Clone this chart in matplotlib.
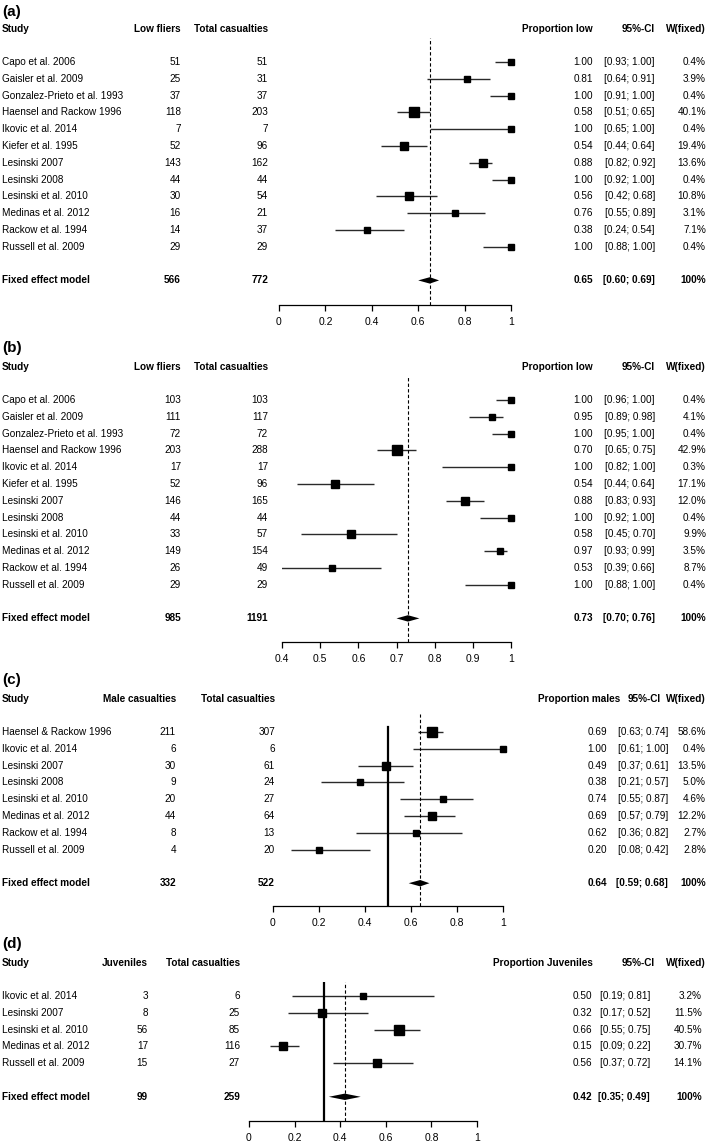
import matplotlib
matplotlib.use("Agg")
import matplotlib.pyplot as plt
import numpy as np

plt.rcParams['font.family'] = ['Liberation Sans', 'DejaVu Sans']

# ---- data ----
studies_ab = ["Capo et al. 2006", "Gaisler et al. 2009", "Gonzalez-Prieto et al. 1993",
              "Haensel and Rackow 1996", "Ikovic et al. 2014", "Kiefer et al. 1995",
              "Lesinski 2007", "Lesinski 2008", "Lesinski et al. 2010",
              "Medinas et al. 2012", "Rackow et al. 1994", "Russell et al. 2009"]

a_events = [51, 25, 37, 118, 7, 52, 143, 44, 30, 16, 14, 29]
a_totals = [51, 31, 37, 203, 7, 96, 162, 44, 54, 21, 37, 29]
a_prop = [1.00, 0.81, 1.00, 0.58, 1.00, 0.54, 0.88, 1.00, 0.56, 0.76, 0.38, 1.00]
a_lo = [0.93, 0.64, 0.91, 0.51, 0.65, 0.44, 0.82, 0.92, 0.42, 0.55, 0.24, 0.88]
a_hi = [1.00, 0.91, 1.00, 0.65, 1.00, 0.64, 0.92, 1.00, 0.68, 0.89, 0.54, 1.00]
a_w = [0.4, 3.9, 0.4, 40.1, 0.4, 19.4, 13.6, 0.4, 10.8, 3.1, 7.1, 0.4]
a_fixed = (566, 772, 0.65, 0.60, 0.69)

b_events = [103, 111, 72, 203, 17, 52, 146, 44, 33, 149, 26, 29]
b_totals = [103, 117, 72, 288, 17, 96, 165, 44, 57, 154, 49, 29]
b_prop = [1.00, 0.95, 1.00, 0.70, 1.00, 0.54, 0.88, 1.00, 0.58, 0.97, 0.53, 1.00]
b_lo = [0.96, 0.89, 0.95, 0.65, 0.82, 0.44, 0.83, 0.92, 0.45, 0.93, 0.39, 0.88]
b_hi = [1.00, 0.98, 1.00, 0.75, 1.00, 0.64, 0.93, 1.00, 0.70, 0.99, 0.66, 1.00]
b_w = [0.4, 4.1, 0.4, 42.9, 0.3, 17.1, 12.0, 0.4, 9.9, 3.5, 8.7, 0.4]
b_fixed = (985, 1191, 0.73, 0.70, 0.76)

c_studies = ["Haensel & Rackow 1996", "Ikovic et al. 2014", "Lesinski 2007", "Lesinski 2008",
             "Lesinski et al. 2010", "Medinas et al. 2012", "Rackow et al. 1994", "Russell et al. 2009"]
c_events = [211, 6, 30, 9, 20, 44, 8, 4]
c_totals = [307, 6, 61, 24, 27, 64, 13, 20]
c_prop = [0.69, 1.00, 0.49, 0.38, 0.74, 0.69, 0.62, 0.20]
c_lo = [0.63, 0.61, 0.37, 0.21, 0.55, 0.57, 0.36, 0.08]
c_hi = [0.74, 1.00, 0.61, 0.57, 0.87, 0.79, 0.82, 0.42]
c_w = [58.6, 0.4, 13.5, 5.0, 4.6, 12.2, 2.7, 2.8]
c_fixed = (332, 522, 0.64, 0.59, 0.68)
c_ref = 0.5

d_studies = ["Ikovic et al. 2014", "Lesinski 2007", "Lesinski et al. 2010",
             "Medinas et al. 2012", "Russell et al. 2009"]
d_events = [3, 8, 56, 17, 15]
d_totals = [6, 25, 85, 116, 27]
d_prop = [0.50, 0.32, 0.66, 0.15, 0.56]
d_lo = [0.19, 0.17, 0.55, 0.09, 0.37]
d_hi = [0.81, 0.52, 0.75, 0.22, 0.72]
d_w = [3.2, 11.5, 40.5, 30.7, 14.1]
d_fixed = (99, 259, 0.42, 0.35, 0.49)
d_ref = 0.33

W, H = 709, 1145
fig = plt.figure(figsize=(W / 100, H / 100), dpi=100)

def fx(x):
    return x / W

def fy(y):
    return 1 - y / H

FS = 7.2
DY = 16.8

def panel(label, col1, col2, propname, studies, ev, tot, prop, lo, hi, w, fixed,
          xlim, ticks, lay, ref=None):
    # lay: pixel layout of this panel
    fig.text(fx(2), fy(lay['label']), label, fontsize=11, fontweight='bold', va='center')
    hy = lay['header']
    bold = dict(fontsize=FS, fontweight='bold', va='center')
    fig.text(fx(2), fy(hy), "Study", **bold)
    fig.text(fx(lay['c1']), fy(hy), col1, ha='right', **bold)
    fig.text(fx(lay['c2']), fy(hy), col2, ha='right', **bold)
    fig.text(fx(lay['ph']), fy(hy), propname, ha='right', **bold)
    fig.text(fx(lay['cih']), fy(hy), "95%-CI", ha='right', **bold)
    fig.text(fx(706), fy(hy), "W(fixed)", ha='right', **bold)

    n = len(studies)
    for i in range(n):
        y = lay['first'] + i * DY
        fig.text(fx(2), fy(y), studies[i], fontsize=FS, va='center')
        fig.text(fx(lay['c1']), fy(y), str(ev[i]), fontsize=FS, va='center', ha='right')
        fig.text(fx(lay['c2']), fy(y), str(tot[i]), fontsize=FS, va='center', ha='right')
        fig.text(fx(lay['p']), fy(y), f"{prop[i]:.2f}", fontsize=FS, va='center', ha='right')
        fig.text(fx(lay['ci']), fy(y), f"[{lo[i]:.2f}; {hi[i]:.2f}]", fontsize=FS, va='center', ha='right')
        fig.text(fx(lay['w']), fy(y), f"{w[i]:.1f}%", fontsize=FS, va='center', ha='right')
    yfix = lay['first'] + (n + 1) * DY
    fig.text(fx(2), fy(yfix), "Fixed effect model", **bold)
    fig.text(fx(lay['c1']), fy(yfix), str(fixed[0]), ha='right', **bold)
    fig.text(fx(lay['c2']), fy(yfix), str(fixed[1]), ha='right', **bold)
    fig.text(fx(lay['p']), fy(yfix), f"{fixed[2]:.2f}", ha='right', **bold)
    fig.text(fx(lay['ci']), fy(yfix), f"[{fixed[3]:.2f}; {fixed[4]:.2f}]", ha='right', **bold)
    fig.text(fx(lay['w']), fy(yfix), "100%", ha='right', **bold)

    # forest axes
    x0, x1 = lay['x0'], lay['x1']
    top, axy = lay['top'], lay['axis']
    ax = fig.add_axes([fx(x0), fy(axy), (x1 - x0) / W, (axy - top) / H])
    ax.set_xlim(*xlim)
    ax.set_ylim((axy - lay['first']) / DY, (top - lay['first']) / DY)
    ax.patch.set_visible(False)
    for s in ['left', 'right', 'top']:
        ax.spines[s].set_visible(False)
    ax.spines['bottom'].set_linewidth(0.9)
    ax.set_yticks([])
    ax.set_xticks(ticks)
    ax.set_xticklabels([f"{t:g}" for t in ticks], fontsize=7.5)
    ax.tick_params(axis='x', direction='out', length=4.5, width=0.9, pad=4)

    rows = np.arange(n)
    ax.hlines(rows, lo, hi, color='#2a2a2a', lw=1.0)
    sizes = (5 + 0.65 * np.sqrt(np.array(w))) * 0.72
    for i in range(n):
        ax.plot(prop[i], rows[i], marker='s', ms=sizes[i], color='black', clip_on=False, lw=0)
    yf = n + 1
    h = 0.19
    ax.fill([fixed[3], fixed[2], fixed[4], fixed[2]], [yf, yf - h, yf, yf + h],
            color='black', clip_on=False, lw=0)
    ax.axvline(fixed[2], color='black', lw=0.8, ls=(0, (3, 2)))
    if ref is not None:
        frac = (axy - lay['solid_top']) / (axy - top)
        ax.axvline(ref, ymin=0, ymax=frac, color='black', lw=1.6)

lay_a = dict(label=12, header=29, first=62, axis=305, top=38, x0=279, x1=511,
             c1=181, c2=268, ph=593, cih=655, p=593, ci=655, w=706)
lay_b = dict(label=348, header=367, first=400, axis=642, top=377, x0=282, x1=511,
             c1=181, c2=268, ph=593, cih=655, p=593, ci=655, w=706)
lay_c = dict(label=680, header=699, first=732, axis=906, top=714, solid_top=727, x0=273, x1=503,
             c1=176, c2=275, ph=620, cih=661, p=607, ci=668, w=706)
lay_d = dict(label=944, header=963, first=996, axis=1121, top=982, solid_top=982, x0=249, x1=477,
             c1=148, c2=240, ph=593, cih=655, p=592, ci=650, w=702)

panel("(a)", "Low fliers", "Total casualties", "Proportion low", studies_ab,
      a_events, a_totals, a_prop, a_lo, a_hi, a_w, a_fixed,
      (0, 1), [0, 0.2, 0.4, 0.6, 0.8, 1], lay_a)
panel("(b)", "Low fliers", "Total casualties", "Proportion low", studies_ab,
      b_events, b_totals, b_prop, b_lo, b_hi, b_w, b_fixed,
      (0.4, 1), [0.4, 0.5, 0.6, 0.7, 0.8, 0.9, 1], lay_b)
panel("(c)", "Male casualties", "Total casualties", "Proportion males", c_studies,
      c_events, c_totals, c_prop, c_lo, c_hi, c_w, c_fixed,
      (0, 1), [0, 0.2, 0.4, 0.6, 0.8, 1], lay_c, ref=c_ref)
panel("(d)", "Juveniles", "Total casualties", "Proportion Juveniles", d_studies,
      d_events, d_totals, d_prop, d_lo, d_hi, d_w, d_fixed,
      (0, 1), [0, 0.2, 0.4, 0.6, 0.8, 1], lay_d, ref=d_ref)

fig.savefig("out.png", dpi=100, facecolor='white')
